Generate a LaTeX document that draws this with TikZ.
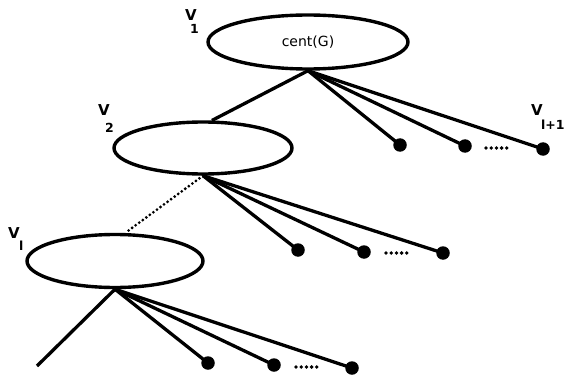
\documentclass[tikz,border=0pt]{standalone}
\usepackage{fontspec}
\setmainfont{DejaVu Sans}
\usetikzlibrary{shapes.geometric}
\begin{document}
\begin{tikzpicture}[x=1pt,y=-1pt,
  edge/.style={line width=3.3pt},
  dotedge/.style={line width=3.1pt, dash pattern=on 0pt off 4.4pt, line cap=round},
  vell/.style={draw, line width=3.4pt, ellipse, inner sep=0pt},
  leaf/.style={circle, fill=black, inner sep=0pt, minimum size=13.5pt},
  ellip/.style={line width=3.8pt, dash pattern=on 0pt off 5.2pt, line cap=round},
  vlab/.style={inner sep=0pt, font=\fontsize{15}{15}\selectfont\bfseries},
  slab/.style={inner sep=0pt, font=\fontsize{12.5}{12.5}\selectfont\bfseries, anchor=west}]
\useasboundingbox (0,0) rectangle (569,374);
% vertices
\node[vell, minimum width=200pt, minimum height=54pt, font=\fontsize{14}{14}\selectfont] (e1) at (308,42) {cent(G)};
\node[vell, minimum width=178pt, minimum height=52pt] (e2) at (203,148) {};
\node[vell, minimum width=176pt, minimum height=53pt] (e3) at (115,261) {};
% labels
\node[vlab] (v1) at (191,15) {V};
\node[slab] (s1) at (190,29) {1};
\node[vlab] (v2) at (104,110) {V};
\node[slab] (s2) at (105,128) {2};
\node[vlab] (v3) at (14,233) {V};
\node[slab] (s3) at (19,246) {l};
\node[vlab] (v4) at (537,110) {V};
\node[slab] (s4) at (541,125) {l+1};
% leaves
\node[leaf] (a1) at (400,145) {};
\node[leaf] (a2) at (465,146) {};
\node[leaf] (a3) at (543,149) {};
\node[leaf] (b1) at (298,250) {};
\node[leaf] (b2) at (364,252) {};
\node[leaf] (b3) at (443,253) {};
\node[leaf] (c1) at (208,363) {};
\node[leaf] (c2) at (274,365) {};
\node[leaf] (c3) at (352,368) {};
\coordinate (free) at (37,366);
% connectors
\draw[edge] (e1.south) -- (e2.72);
\draw[edge] (e1.south) -- (a1.center);
\draw[edge] (e1.south) -- (a2.center);
\draw[edge] (e1.south) -- (a3.center);
\draw[dotedge] (e2.south) -- (e3.70);
\draw[edge] (e2.south) -- (b1.center);
\draw[edge] (e2.south) -- (b2.center);
\draw[edge] (e2.south) -- (b3.center);
\draw[edge] (e3.south) -- (free);
\draw[edge] (e3.south) -- (c1.center);
\draw[edge] (e3.south) -- (c2.center);
\draw[edge] (e3.south) -- (c3.center);
% ellipses
\draw[ellip] (486,148) -- (508,148);
\draw[ellip] (386,253) -- (408,253);
\draw[ellip] (296,367) -- (318,367);
\end{tikzpicture}
\end{document}
